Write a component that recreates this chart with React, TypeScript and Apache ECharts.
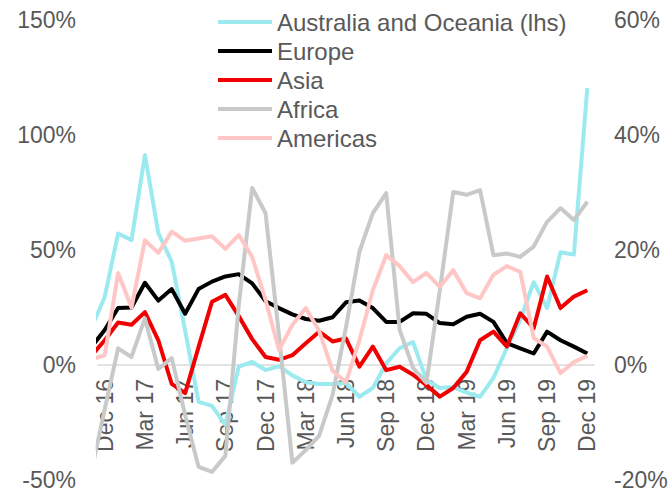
import React, { useEffect, useRef } from "react";
import * as echarts from "echarts";

// Month categories; "Nov 16" is only partly visible at the left edge of the plot
const months = [
  "Nov 16", "Dec 16", "Jan 17", "Feb 17", "Mar 17", "Apr 17", "May 17", "Jun 17", "Jul 17", "Aug 17",
  "Sep 17", "Oct 17", "Nov 17", "Dec 17", "Jan 18", "Feb 18", "Mar 18", "Apr 18", "May 18", "Jun 18",
  "Jul 18", "Aug 18", "Sep 18", "Oct 18", "Nov 18", "Dec 18", "Jan 19", "Feb 19", "Mar 19", "Apr 19",
  "May 19", "Jun 19", "Jul 19", "Aug 19", "Sep 19", "Oct 19", "Nov 19", "Dec 19",
];

const tickLabels = [
  "Dec 16", "Mar 17", "Jun 17", "Sep 17", "Dec 17", "Mar 18", "Jun 18",
  "Sep 18", "Dec 18", "Mar 19", "Jun 19", "Sep 19", "Dec 19",
];

const leftTicks = ["-50%", "0%", "50%", "100%", "150%"];
const rightTicks = ["-20%", "0%", "20%", "40%", "60%"];

// Left-hand axis
const australia = [
  16, 29.6, 57.2, 54.3, 91.3, 57.4, 44.9, 15, -16, -17.8, -26, -0.7, 1.3, -2.2, -0.5, -4.5, -7.5, -8.3, -8.3,
  -7.8, -13.8, -10, 0.7, 7.3, 10, -6.5, -10, -9.6, -12, -13.8, -5.6, 7.4, 19.6, 36, 24.8, 49, 48, 120.4,
];
// Right-hand axis
const europe = [
  3.1, 6.1, 9.9, 10, 14.3, 11.2, 13.2, 8.9, 13.2, 14.5, 15.4, 15.8, 14.2, 11.1, 9.9, 8.8, 8, 7.7, 8.3,
  10.9, 11.2, 9.9, 7.5, 7.5, 9, 8.9, 7.3, 7.1, 8.4, 8.9, 7.5, 3.8, 2.9, 2, 5.8, 4.3, 3.2, 2,
];
const asia = [
  1.6, 4.3, 7.4, 7, 9.2, 4.3, -3.3, -4.9, 3.1, 11, 12.2, 8.5, 4.5, 1.4, 0.9, 1.7, 3.8, 5.8, 4.1,
  4.6, -0.3, 3.2, -0.9, -0.3, -1.7, -3.5, -5.5, -4, -1.2, 4.3, 5.8, 3.2, 9, 6.4, 15.4, 9.9, 11.9, 13,
];
const africa = [
  -18.6, -7.7, 2.9, 1.4, 8.1, -0.7, 1.2, -8.7, -17.7, -18.6, -15.8, 10.4, 30.8, 26.4, 5.2, -17, -14.8, -12.3, -5.2,
  6.6, 19.7, 26.4, 29.9, 6.1, -0.5, -3.1, 13, 30.1, 29.6, 30.4, 19.1, 19.4, 18.8, 20.6, 24.9, 27.3, 25.2, 28.4,
];
const americas = [
  1, 1.7, 16, 10, 21.7, 19.5, 23.2, 21.6, 22, 22.4, 20.2, 22.6, 18.8, 11.3, 2.6, 7, 9.9, 5.9, -1,
  -3, 4.3, 13, 19.1, 17.2, 14.4, 16, 13.6, 16.5, 12.5, 11.6, 15.7, 17.2, 16.2, 4.7, 3.2, -1.4, 0.5, 1.6,
];

const seriesDefs = [
  { name: "Australia and Oceania (lhs)", data: australia, color: "#9BEAF0", axis: 0 },
  { name: "Europe", data: europe, color: "#000000", axis: 1 },
  { name: "Asia", data: asia, color: "#F00000", axis: 1 },
  { name: "Africa", data: africa, color: "#C8C9C9", axis: 1 },
  { name: "Americas", data: americas, color: "#FFC6C6", axis: 1 },
];

const FONT = "'Liberation Sans', Arial, sans-serif";
const TEXT = "#595959";

const GRID_TOP = 20;
const GRID_BOTTOM = 12;
const CHART_H = 492;

export default function App() {
  const ref = useRef<HTMLDivElement>(null);

  useEffect(() => {
    if (!ref.current) return;
    const chart = echarts.init(ref.current, null, { renderer: "svg" });
    const idx = (m: string) => months.indexOf(m) - 1; // Dec 16 -> 0
    const pct = (s: string) => parseFloat(s);
    const lMin = pct(leftTicks[0]);
    const lMax = pct(leftTicks[leftTicks.length - 1]);
    // move the category axis up to the 0% level of the left scale
    const plotH = CHART_H - GRID_TOP - GRID_BOTTOM;
    const zeroOffset = -(plotH * (0 - lMin)) / (lMax - lMin);

    chart.setOption({
      animation: false,
      textStyle: { fontFamily: FONT },
      grid: { left: 98, right: 77, top: GRID_TOP, bottom: GRID_BOTTOM, containLabel: false, outerBoundsMode: "none" },
      legend: {
        orient: "vertical",
        left: 218,
        top: 10,
        padding: 0,
        itemGap: 5,
        itemWidth: 54,
        itemHeight: 4,
        icon: "rect",
        textStyle: { fontSize: 24, color: TEXT, fontFamily: FONT, lineHeight: 24, padding: [0, 0, 0, 0] },
        data: seriesDefs.map((s) => s.name),
      },
      xAxis: {
        type: "value",
        position: "bottom",
        offset: zeroOffset,
        min: -0.5,
        max: months.length - 1.5,
        splitLine: { show: false },
        axisTick: { show: false },
        axisLine: { show: true, onZero: false, lineStyle: { color: "#D9D9D9", width: 1.5 } },
        axisLabel: {
          customValues: tickLabels.map(idx),
          formatter: (v: number) => months[Math.round(v) + 1] || "",
          rotate: 90,
          margin: 14,
          fontSize: 23,
          color: TEXT,
          fontFamily: FONT,
        },
      },
      yAxis: [
        {
          type: "value",
          min: lMin,
          max: lMax,
          interval: pct(leftTicks[1]) - pct(leftTicks[0]),
          splitLine: { show: false },
          axisLine: { show: false, onZero: false },
          axisTick: { show: false },
          axisLabel: { formatter: "{value}%", fontSize: 23, color: TEXT, margin: 22, fontFamily: FONT },
        },
        {
          type: "value",
          min: pct(rightTicks[0]),
          max: pct(rightTicks[rightTicks.length - 1]),
          interval: pct(rightTicks[1]) - pct(rightTicks[0]),
          splitLine: { show: false },
          axisLine: { show: false, onZero: false },
          axisTick: { show: false },
          axisLabel: { formatter: "{value}%", fontSize: 23, color: TEXT, margin: 20, fontFamily: FONT },
        },
      ],
      series: seriesDefs.map((s) => ({
        name: s.name,
        type: "line",
        yAxisIndex: s.axis,
        data: s.data.map((v, i) => [i - 1, v]),
        color: s.color,
        symbol: "none",
        clip: true,
        lineStyle: { color: s.color, width: 4, join: "round" },
      })),
    });

    return () => chart.dispose();
  }, []);

  return (
    <div style={{ position: "absolute", left: 0, top: 0 }}>
      <div ref={ref} style={{ width: 671, height: CHART_H }} />
    </div>
  );
}
